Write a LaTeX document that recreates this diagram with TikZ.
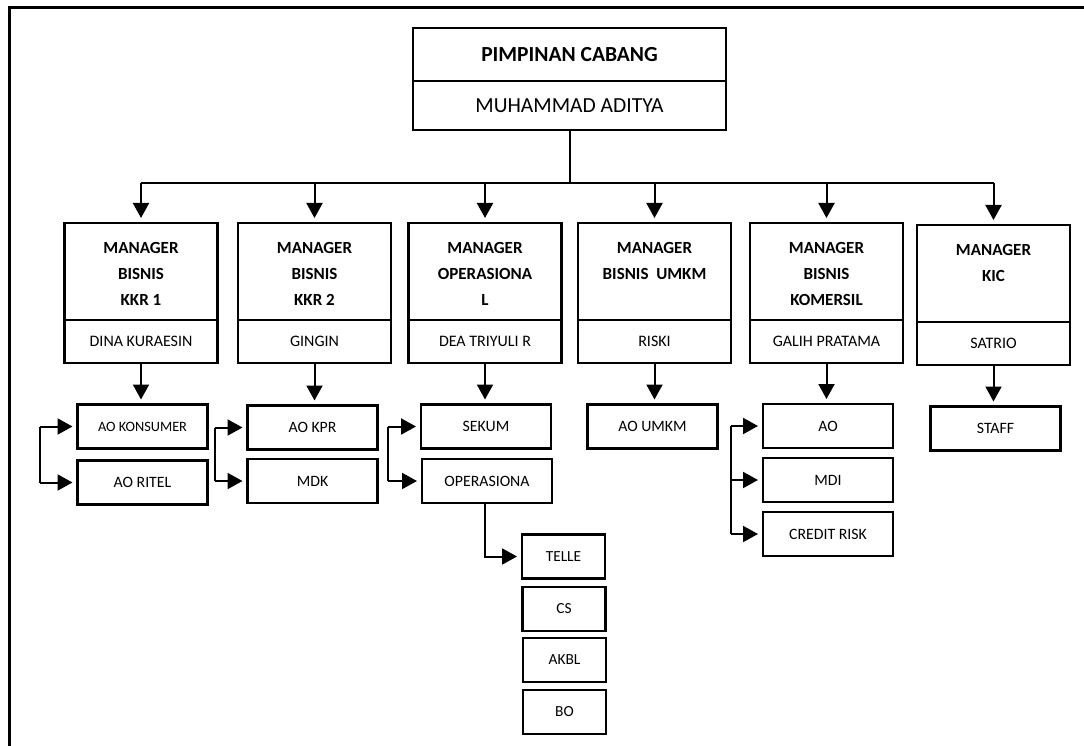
\documentclass[tikz,border=0pt]{standalone}
\usepackage{fontspec}
\setmainfont{Carlito}
\usetikzlibrary{arrows.meta}
\begin{document}
\begin{tikzpicture}[x=1pt,y=-1pt,
  box/.style={draw,line width=2.4pt,inner sep=0pt,outer sep=0pt},
  mtop/.style={box,minimum width=153pt,minimum height=97pt,anchor=north},
  mname/.style={box,minimum width=153pt,minimum height=43pt,anchor=north,font=\fontsize{16}{18}\selectfont},
  mtitle/.style={inner sep=0pt,anchor=north,align=center,font=\fontsize{17}{26}\selectfont\bfseries},
  sub/.style={box,minimum width=130pt,minimum height=44pt,font=\fontsize{15.8}{18}\selectfont},
  leaf/.style={box,minimum width=83pt,minimum height=44pt,font=\fontsize{15.4}{18}\selectfont},
  conn/.style={line width=2pt},
  arr/.style={conn,-{Triangle[length=15pt,width=16pt]},shorten >=5pt}
]
\useasboundingbox (0,0) rectangle (1084,746);
\draw[line width=3pt] (1084,8) -- (9,8) -- (9,746);

% top
\node[box,minimum width=313pt,minimum height=53pt,font=\fontsize{21.5}{24}\selectfont\bfseries] (pct) at (569.5,54.5) {PIMPINAN CABANG};
\node[box,minimum width=313pt,minimum height=49pt,anchor=north,font=\fontsize{21.5}{24}\selectfont] (pcn) at (pct.south) {MUHAMMAD ADITYA};

% managers
\node[mtop] (m1) at (141,223) {};
\node[mname] (n1) at (m1.south) {DINA KURAESIN};
\node[mtitle] (t1) at ([yshift=-19pt]m1.north) {MANAGER\\BISNIS\\KKR 1};

\node[mtop] (m2) at (314.5,223) {};
\node[mname] (n2) at (m2.south) {GINGIN};
\node[mtitle] (t2) at ([yshift=-19pt]m2.north) {MANAGER\\BISNIS\\KKR 2};

\node[mtop] (m3) at (485,223) {};
\node[mname] (n3) at (m3.south) {DEA TRIYULI R};
\node[mtitle] (t3) at ([yshift=-19pt]m3.north) {MANAGER\\OPERASIONA\\L};

\node[mtop] (m4) at (654.5,223) {};
\node[mname] (n4) at (m4.south) {RISKI};
\node[mtitle] (t4) at ([yshift=-19pt]m4.north) {MANAGER\\BISNIS\ \ UMKM};

\node[mtop] (m5) at (826.5,223) {};
\node[mname] (n5) at (m5.south) {GALIH PRATAMA};
\node[mtitle] (t5) at ([yshift=-19pt]m5.north) {MANAGER\\BISNIS\\KOMERSIL};

\node[mtop] (m6) at (993.5,225) {};
\node[mname] (n6) at (m6.south) {SATRIO};
\node[mtitle] (t6) at ([yshift=-19pt]m6.north) {MANAGER\\KIC};

% sub boxes
\node[sub,font=\fontsize{14.3}{16}\selectfont] (aokons) at (142.5,426.5) {AO KONSUMER};
\node[sub] (aoritel) at (142.5,482.5) {AO RITEL};
\node[sub] (aokpr) at (312.5,427.5) {AO KPR};
\node[sub] (mdk) at (312.5,481) {MDK};
\node[sub] (sekum) at (486,426.5) {SEKUM};
\node[sub] (opr) at (487,481) {OPERASIONA};
\node[sub] (aoumkm) at (652.5,426.5) {AO UMKM};
\node[sub] (ao) at (828,426) {AO};
\node[sub] (mdi) at (828,480) {MDI};
\node[sub] (crisk) at (828,534) {CREDIT RISK};
\node[sub] (staff) at (995.5,428.5) {STAFF};

\node[leaf] (telle) at (563.5,556.5) {TELLE};
\node[leaf] (cs) at (564,609) {CS};
\node[leaf] (akbl) at (564.5,660) {AKBL};
\node[leaf] (bo) at (564.5,712) {BO};

% bus
\coordinate (bus) at (0,183);
\draw[conn] (pcn.south) -- (pcn.south |- bus);
\draw[conn] (m1.north |- bus) -- (m6.north |- bus);
\foreach \i in {1,...,6} {
  \draw[arr] (m\i.north |- bus) -- (m\i.north);
}

% down arrows
\draw[arr] (n1.south) -- (n1.south |- aokons.north);
\draw[arr] (n2.south) -- (n2.south |- aokpr.north);
\draw[arr] (n3.south) -- (n3.south |- sekum.north);
\draw[arr] (n4.south) -- (n4.south |- aoumkm.north);
\draw[arr] (n5.south) -- (n5.south |- ao.north);
\draw[arr] (n6.south) -- (n6.south |- staff.north);

% brackets
\coordinate (b1) at (40,0);
\draw[conn] (b1 |- aokons.west) -- (b1 |- aoritel.west);
\draw[arr] (b1 |- aokons.west) -- (aokons.west);
\draw[arr] (b1 |- aoritel.west) -- (aoritel.west);

\coordinate (b2) at (215,0);
\draw[conn] (b2 |- aokpr.west) -- (b2 |- mdk.west);
\draw[arr] (b2 |- aokpr.west) -- (aokpr.west);
\draw[arr] (b2 |- mdk.west) -- (mdk.west);

\coordinate (b3) at (388,0);
\draw[conn] (b3 |- sekum.west) -- (b3 |- opr.west);
\draw[arr] (b3 |- sekum.west) -- (sekum.west);
\draw[arr] (b3 |- opr.west) -- (opr.west);

\coordinate (b5) at (731,0);
\draw[conn] (b5 |- ao.west) -- (b5 |- crisk.west);
\draw[arr] (b5 |- ao.west) -- (ao.west);
\draw[arr] (b5 |- mdi.west) -- (mdi.west);
\draw[arr] (b5 |- crisk.west) -- (crisk.west);

\draw[arr] ([xshift=-2pt]opr.south) |- (telle.west);
\end{tikzpicture}
\end{document}
